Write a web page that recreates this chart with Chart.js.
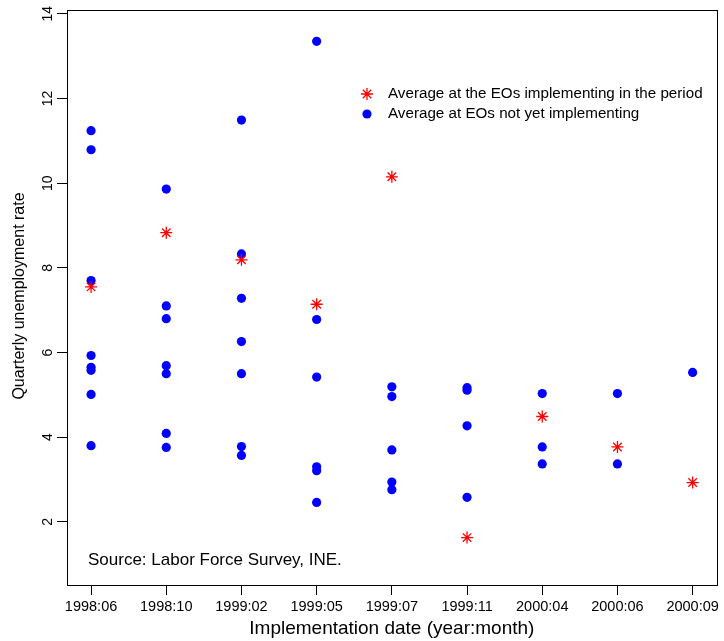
<!DOCTYPE html>
<html>
<head>
<meta charset="utf-8">
<script src="https://cdn.jsdelivr.net/npm/chart.js@4.4.1/dist/chart.umd.min.js"></script>
<style>
  html, body { margin: 0; padding: 0; background: #fff; }
  #wrap { width: 724px; height: 641px; }
</style>
</head>
<body>
<div id="wrap"><canvas id="c" width="724" height="641"></canvas></div>
<script>
const categories = ['1998:06', '1998:10', '1999:02', '1999:05', '1999:07', '1999:11', '2000:04', '2000:06', '2000:09'];

// Average at EOs not yet implementing (several per period)
const notYetValues = [
  [11.24, 10.79, 7.70, 5.93, 5.65, 5.58, 5.01, 3.80],
  [9.86, 7.10, 6.80, 5.69, 5.50, 4.09, 3.76],
  [11.49, 8.33, 7.28, 6.26, 5.50, 3.78, 3.57],
  [13.35, 6.78, 5.42, 3.30, 3.21, 2.46],
  [5.19, 4.96, 3.70, 2.94, 2.76],
  [5.17, 5.11, 4.27, 2.58],
  [5.03, 3.77, 3.37],
  [5.03, 3.37],
  [5.53]
];

// Average at the EOs implementing in the period
const implementingValues = [7.55, 8.83, 8.19, 7.14, 10.15, 1.63, 4.49, 3.77, 2.93];

const yTicks = [2, 4, 6, 8, 10, 12, 14];

const redPoints = implementingValues.map((v, i) => ({ x: i + 1, y: v }));
const bluePoints = [];
notYetValues.forEach((vals, i) => vals.forEach(v => bluePoints.push({ x: i + 1, y: v })));

const FONT = "'Liberation Sans', Arial, sans-serif";

// box, rotated y labels, axis titles, source note and legend
const extras = {
  id: 'extras',
  afterDraw(chart) {
    const ctx = chart.ctx;
    const a = chart.chartArea;
    const yScale = chart.scales.y;
    ctx.save();
    ctx.strokeStyle = '#000';
    ctx.lineWidth = 1;
    ctx.strokeRect(Math.round(a.left) + 0.5, Math.round(a.top) + 0.5, Math.round(a.right - a.left), Math.round(a.bottom - a.top));

    ctx.fillStyle = '#000';

    // y tick labels, reading bottom to top like R
    ctx.font = '14px ' + FONT;
    ctx.textAlign = 'center';
    ctx.textBaseline = 'alphabetic';
    yTicks.forEach(v => {
      const py = yScale.getPixelForValue(v);
      ctx.save();
      ctx.translate(52, py);
      ctx.rotate(-Math.PI / 2);
      ctx.fillText(String(v), 0, 0);
      ctx.restore();
    });

    // y title
    ctx.save();
    ctx.font = '16px ' + FONT;
    ctx.textBaseline = 'middle';
    ctx.translate(20, 296);
    ctx.rotate(-Math.PI / 2);
    ctx.fillText('Quarterly unemployment rate', 0, 0);
    ctx.restore();

    // x title
    ctx.font = '19px ' + FONT;
    ctx.textBaseline = 'alphabetic';
    ctx.fillText('Implementation date (year:month)', (a.left + a.right) / 2, 634);

    // source note
    ctx.font = '17px ' + FONT;
    ctx.textAlign = 'left';
    ctx.fillText('Source: Labor Force Survey, INE.', 88, 565);

    // legend
    const items = chart.data.datasets;
    const lx = 367, ly = 94, gap = 20;
    ctx.font = '15.2px ' + FONT;
    ctx.textBaseline = 'middle';
    items.forEach((ds, i) => {
      const y = ly + i * gap;
      ctx.save();
      ctx.strokeStyle = ds.borderColor;
      ctx.fillStyle = ds.backgroundColor;
      ctx.lineWidth = ds.pointBorderWidth;
      Chart.helpers.drawPoint(ctx, { pointStyle: ds.pointStyle, radius: ds.pointRadius, rotation: 0, borderWidth: ds.pointBorderWidth }, lx, y);
      ctx.restore();
      ctx.fillStyle = '#000';
      ctx.fillText(ds.label, lx + 21, y);
    });
    ctx.restore();
  }
};

new Chart(document.getElementById('c'), {
  type: 'scatter',
  data: {
    datasets: [
      {
        label: 'Average at the EOs implementing in the period',
        data: redPoints,
        pointStyle: 'star',
        pointRadius: 6,
        pointBorderWidth: 1.3,
        borderColor: '#ff0000',
        backgroundColor: '#ff0000'
      },
      {
        label: 'Average at EOs not yet implementing',
        data: bluePoints,
        pointStyle: 'circle',
        pointRadius: 4.6,
        pointBorderWidth: 0,
        borderColor: '#0000ff',
        backgroundColor: '#0000ff'
      }
    ]
  },
  options: {
    responsive: false,
    animation: false,
    layout: { padding: { top: 10, right: 6, left: 0, bottom: 0 } },
    plugins: {
      legend: { display: false },
      tooltip: { enabled: false }
    },
    scales: {
      x: {
        type: 'linear',
        min: 0.68,
        max: 9.32,
        afterBuildTicks: axis => { axis.ticks = categories.map((c, i) => ({ value: i + 1 })); },
        afterFit: axis => { axis.height = 56; },
        grid: { display: true, drawOnChartArea: false, drawTicks: true, tickLength: 10, color: '#000' },
        border: { display: true, color: '#000' },
        ticks: {
          color: '#000',
          font: { family: FONT, size: 14.5 },
          padding: 3,
          maxRotation: 0,
          autoSkip: false,
          callback: v => categories[Math.round(v) - 1]
        }
      },
      y: {
        min: 0.51,
        max: 14.09,
        afterBuildTicks: axis => { axis.ticks = yTicks.map(v => ({ value: v })); },
        afterFit: axis => { axis.width = 67; },
        grid: { display: true, drawOnChartArea: false, drawTicks: true, tickLength: 10, color: '#000' },
        border: { display: true, color: '#000' },
        ticks: { display: false }
      }
    }
  },
  plugins: [extras]
});
</script>
</body>
</html>
